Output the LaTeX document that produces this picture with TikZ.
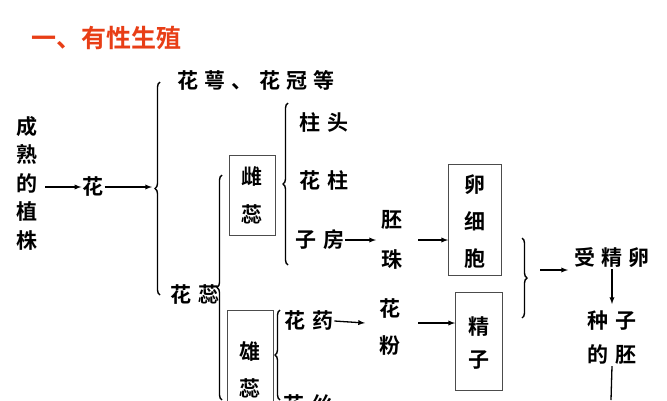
\documentclass[tikz,border=0pt]{standalone}
\usepackage{fontspec}
\newfontfamily\cjk{Noto Sans CJK SC}[BoldFont={* Bold}]
\newfontfamily\cjks{Noto Sans CJK SC}[BoldFont={* Bold},LetterSpace=30]
\usetikzlibrary{decorations.pathreplacing}
\definecolor{titlered}{RGB}{232,62,22}
\begin{document}
\begin{tikzpicture}[x=1pt,y=-1pt,
  t/.style={font=\cjks\bfseries\fontsize{21}{24}\selectfont,inner sep=1pt},
  v/.style={align=center,inner sep=1pt},
  box/.style={draw=black!70,line width=0.8pt,inner sep=0pt},
  arr/.style={-latex,line width=1.3pt},
  br/.style={decorate,decoration={brace,amplitude=5pt},line width=1.4pt}]
\useasboundingbox (0,0) rectangle (667,400);
\clip (0,0) rectangle (667,400);
\node[text=titlered,font=\cjk\bfseries\fontsize{25}{28}\selectfont,anchor=west] (title) at (28,38) {一、有性生殖};
\node[v,font=\cjk\bfseries\fontsize{21}{28.5}\selectfont] (plant) at (27,183) {成\\熟\\的\\植\\株};
\node[t] (hua) at (93,187) {花};
\draw[br] (160,295) -- (160,82);
\draw[arr] (45,187) -- (hua.west);
\draw[arr] (hua.east) -- (152,187);
\node[t,anchor=west] (e) at (176,80) {花萼、花冠等};
\node[t] (hr) at (195,295) {花蕊};
\draw[br] (222,400) -- (222,175);
\node[box,minimum width=46,minimum height=80] (cb) at (252,195) {};
\node[v,font=\cjk\bfseries\fontsize{21}{38}\selectfont] (cx) at (252,195) {雌\\蕊};
\draw[br] (288,265) -- (288,103);
\node[t] (zt) at (324,122) {柱头};
\node[t] (hz) at (324,180) {花柱};
\node[t] (zf) at (320,240) {子房};
\node[v,font=\cjk\bfseries\fontsize{21}{40}\selectfont] (pz) at (392,240) {胚\\珠};
\draw[arr] (zf.east) -- (376,240);
\node[box,minimum width=53,minimum height=111] (lb) at (475,220) {};
\node[v,font=\cjk\bfseries\fontsize{21}{37}\selectfont] (lx) at (475,222) {卵\\细\\胞};
\draw[arr] (418,240) -- (lb.west |- 418,240);
\node[box,minimum width=46,minimum height=120] (xb) at (250,370) {};
\node[v,font=\cjk\bfseries\fontsize{21}{37}\selectfont] (xx) at (250,370) {雄\\蕊};
\draw[br] (280,400) -- (280,310);
\node[t] (hy) at (309,321) {花药};
\node[v,font=\cjk\bfseries\fontsize{21}{37}\selectfont] (hf) at (390,327) {花\\粉};
\draw[arr] (hy.east) -- (365,323);
\node[box,minimum width=47,minimum height=98] (jb) at (479,341) {};
\node[v,font=\cjk\bfseries\fontsize{21}{33}\selectfont] (jx) at (479,343) {精\\子};
\draw[arr] (418,323) -- (jb.west |- 418,323);
\node[t] (hs) at (308,404) {花丝};
\draw[br] (522,238) -- (522,318);
\node[t] (sj) at (612,258) {受精卵};
\draw[arr] (540,270) -- (568,270);
\node[t,align=center,font=\cjks\bfseries\fontsize{21}{34}\selectfont] (zz) at (612,338) {种子\\的胚};
\draw[arr] (sj.south) -- (612,304);
\coordinate (end) at (611,400);
\draw[line width=1.3pt] (zz.south) -- (end);
\end{tikzpicture}
\end{document}
